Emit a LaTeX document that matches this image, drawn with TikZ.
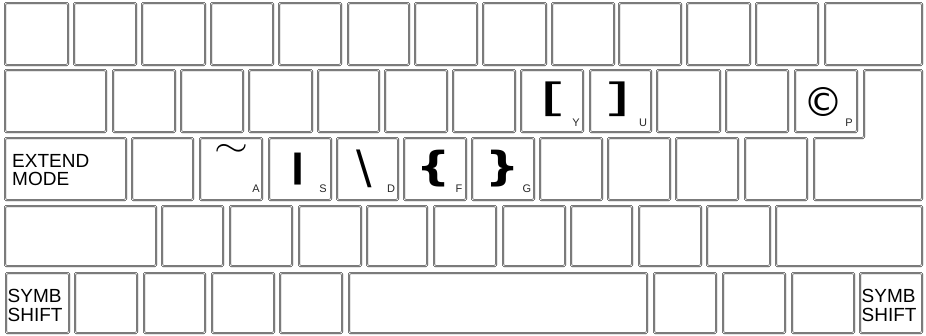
\documentclass[tikz,border=0pt]{standalone}
\usepackage{graphicx}
\usepackage{fontspec}
\setmainfont{Liberation Sans}
\newfontfamily\symfont{DejaVu Sans}
\begin{document}
\begin{tikzpicture}[x=1pt,y=-1pt,
  keybox/.style={draw=black!80, double=white, line width=0.55pt, double distance=0.9pt, rounded corners=1.2pt},
  keycap/.style={font=\fontsize{11}{11}\selectfont, text=black!85, inner sep=0pt, anchor=base},
  legend/.style={inner sep=0pt, font=\symfont},
  wordlbl/.style={font=\fontsize{19}{19}\selectfont, inner sep=0pt, anchor=base west}]
\useasboundingbox (0,0) rectangle (926,335);
% row 1
\foreach \a/\b in {4/69,73/137,141/206,210/274,278/342,347/410,414/478,482/547,551/615,618/682,686/751,755/819,824/923}
  \draw[keybox] (\a+1,3) rectangle (\b-1,65);
% row 2
\foreach \a/\b in {4/107,112/176,180/244,248/313,317/380,384/448,452/516,520/584,589/652,656/721,725/789,794/858}
  \draw[keybox] (\a+1,70) rectangle (\b-1,132);
% enter key (L shaped)
\draw[keybox] (864,70) -- (922,70) -- (922,200) -- (814,200) -- (814,138) -- (864,138) -- cycle;
% row 3
\foreach \a/\b in {4/127,131/194,199/263,268/332,336/399,403/467,471/535,539/603,607/671,675/739,744/808}
  \draw[keybox] (\a+1,138) rectangle (\b-1,200);
% row 4
\foreach \a/\b in {4/157,161/224,229/293,298/362,366/428,433/497,502/566,570/633,638/702,706/771,775/923}
  \draw[keybox] (\a+1,206) rectangle (\b-1,266);
% row 5
\foreach \a/\b in {5/70,74/138,143/206,211/275,279/343,348/648,653/717,722/786,791/855,859/923}
  \draw[keybox] (\a+1,273) rectangle (\b-1,333);

% word labels
\node[wordlbl] (ext1) at (12,167) {EXTEND};
\node[wordlbl] (ext2) at (12,185.5) {MODE};
\node[wordlbl] (sl1) at (7.5,302) {SYMB};
\node[wordlbl] (sl2) at (7.5,321) {SHIFT};
\node[wordlbl] (sr1) at (861.5,302) {SYMB};
\node[wordlbl] (sr2) at (861.5,321) {SHIFT};

% small key letters
\node[keycap] (lY) at (576,126) {Y};
\node[keycap] (lU) at (643,126) {U};
\node[keycap] (lP) at (849,126) {P};
\node[keycap] (lA) at (256,192) {A};
\node[keycap] (lS) at (323,192) {S};
\node[keycap] (lD) at (391,192) {D};
\node[keycap] (lF) at (459,192) {F};
\node[keycap] (lG) at (527,192) {G};

% symbols
\node[legend] (sym1) at (554,99) {\scalebox{1.9}[1]{\fontsize{39}{39}\selectfont [}};
\node[legend] (sym2) at (617,99) {\scalebox{1.9}[1]{\fontsize{39}{39}\selectfont ]}};
\node[legend] (sym3) at (823,102) {\resizebox{!}{29pt}{\textcopyright}};
\node[inner sep=0pt, anchor=base] (sym4) at (231,156) {\scalebox{1}[0.75]{\resizebox{34pt}{!}{$\sim$}}};
\node[legend] (sym5) at (298,169) {\scalebox{1.8}[1]{\fontsize{32}{32}\selectfont\bfseries\textbar}};
\node[legend] (sym6) at (364,169) {\fontsize{46}{46}\selectfont\textbackslash};
\node[legend] (sym7) at (434,169) {\scalebox{1.2}[1]{\fontsize{40}{40}\selectfont\bfseries\{}};
\node[legend] (sym8) at (503,169) {\scalebox{1.2}[1]{\fontsize{40}{40}\selectfont\bfseries\}}};
\end{tikzpicture}
\end{document}
